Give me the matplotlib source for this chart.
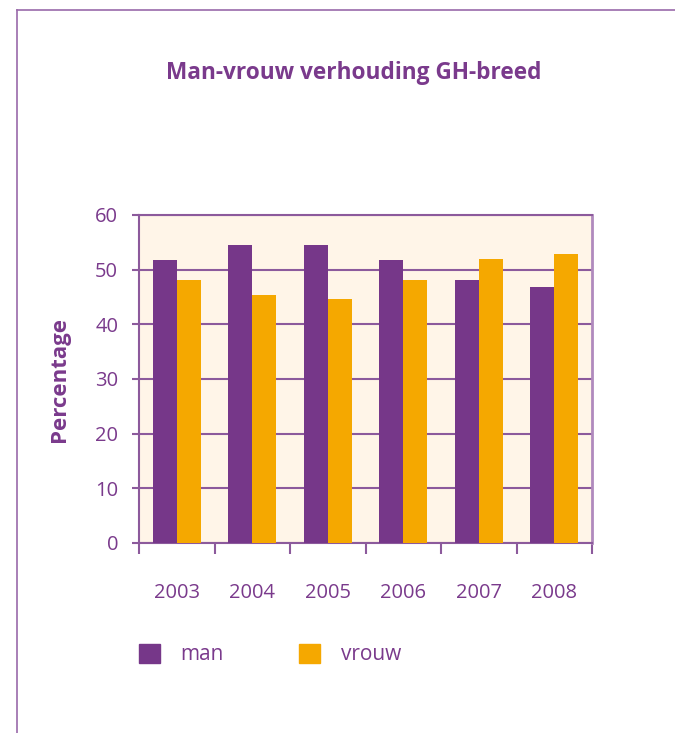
import matplotlib.pyplot as plt
from matplotlib.lines import Line2D
from matplotlib.patches import Patch
import numpy as np

# data
years = ["2003", "2004", "2005", "2006", "2007", "2008"]
man = [51.8, 54.5, 54.5, 51.8, 48.1, 46.9]
vrouw = [48.2, 45.3, 44.7, 48.2, 51.9, 52.8]

purple = "#763789"
orange = "#F5A800"
text_col = "#7A3A8C"
grid_col = "#8C5A9C"
bg_col = "#FFF5E8"

plt.rcParams['font.family'] = ['Open Sans', 'DejaVu Sans']

W, H = 675, 733
fig = plt.figure(figsize=(W / 100, H / 100), dpi=100)
ax = fig.add_axes([139 / W, 190 / H, 453 / W, 328 / H])
ax.set_facecolor(bg_col)

x = np.arange(len(years))
bw = 0.315
ax.bar(x - bw / 2, man, bw, color=purple, zorder=3, label="man")
ax.bar(x + bw / 2, vrouw, bw, color=orange, zorder=3, label="vrouw")

ax.set_xlim(-0.5, len(years) - 0.5)
ax.set_ylim(0, 60)
ax.set_yticks(range(0, 61, 10))
ax.yaxis.grid(True, color=grid_col, linewidth=1.5, zorder=1)
ax.set_axisbelow(True)

# year labels centred, tick marks on the category borders
ax.set_xticks(x)
ax.set_xticklabels(years)
ax.set_xticks(np.arange(-0.5, len(years), 1), minor=True)
ax.tick_params(axis="x", which="major", length=0, pad=29, labelsize=14.5, labelcolor=text_col)
ax.tick_params(axis="x", which="minor", length=8, width=1.5, color=grid_col, direction="out")
ax.tick_params(axis="y", length=5, width=1.5, color=grid_col, pad=10, labelsize=14.5, labelcolor=text_col)

for s in ["left", "bottom"]:
    ax.spines[s].set_color(grid_col)
    ax.spines[s].set_linewidth(1.5)
ax.spines["right"].set_color("#B08ABD")
ax.spines["right"].set_linewidth(2)
ax.spines["top"].set_color(grid_col)
ax.spines["top"].set_linewidth(1.5)

ax.set_ylabel("Percentage", fontsize=16, fontweight="bold", color=text_col, labelpad=18)

fig.text(354 / W, 1 - 73 / H, "Man-vrouw verhouding GH-breed", ha="center", va="center",
         fontsize=16.3, fontweight="bold", color=text_col)

handles = [Patch(color=purple), Patch(color=orange)]
fig.legend(handles, ["man", "vrouw"], loc="upper left", bbox_to_anchor=(139 / W, 1 - 644 / H),
           ncol=2, frameon=False, fontsize=15, labelcolor=text_col, borderpad=0, borderaxespad=0,
           handlelength=1.0, handleheight=1.0, handletextpad=1.0, columnspacing=3.6)

# page border lines
fig.add_artist(Line2D([17 / W, 1], [1 - 10 / H, 1 - 10 / H], color="#9A6AAA", linewidth=1.2))
fig.add_artist(Line2D([17 / W, 17 / W], [0, 1 - 10 / H], color="#9A6AAA", linewidth=1.2))

fig.savefig("out.png", dpi=100)
